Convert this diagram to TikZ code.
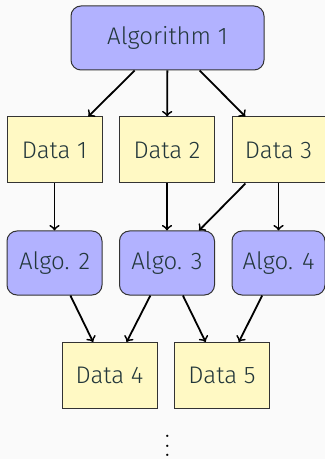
\documentclass[tikz,border=0pt]{standalone}
\usepackage{fontspec}
\setmainfont{Fira Sans Light}
\definecolor{bgcol}{HTML}{FAFAFA}
\definecolor{txtcol}{HTML}{23373B}
\definecolor{algofill}{rgb}{0.7,0.7,1}
\definecolor{datafill}{RGB}{255,249,196}
\newcommand\myvdots{\vbox{\baselineskip4.6pt\lineskiplimit0pt\hbox{$.$}\hbox{$.$}\hbox{$.$}}}
\begin{document}
\begin{tikzpicture}[x=0.5pt,y=-0.5pt,
  base/.style={draw=black!80,line width=0.5pt,text=txtcol,inner sep=0pt,font=\fontsize{12}{14}\selectfont},
  algobox/.style={base,fill=algofill,rounded corners=5pt,minimum width=47.5pt,minimum height=32pt},
  databox/.style={base,fill=datafill,minimum width=47.5pt,minimum height=33pt},
  flow/.style={->,line width=0.9pt,black}]
\useasboundingbox[fill=bgcol] (0,0) rectangle (325,459);
\node[algobox,minimum width=96.5pt] (a1) at (167.5,38) {Algorithm 1};
\node[databox] (d1) at (54.5,150) {Data 1};
\node[databox] (d2) at (167,150) {Data 2};
\node[databox,minimum width=46.5pt] (d3) at (278.5,150) {Data 3};
\node[algobox] (a2) at (54.5,263) {Algo. 2};
\node[algobox] (a3) at (167,263) {Algo. 3};
\node[algobox,minimum width=46.5pt] (a4) at (278.5,263) {Algo. 4};
\node[databox] (d4) at (109.5,375.5) {Data 4};
\node[databox] (d5) at (222,375.5) {Data 5};
\node[text=black,inner sep=0pt,font=\fontsize{13}{14}\selectfont] (dots) at (167.5,446) {\myvdots};
\draw[flow] (a1) -- (d1);
\draw[flow] (a1) -- (d2);
\draw[flow] (a1) -- (d3);
\draw[flow] (d1) -- (a2);
\draw[flow] (d2) -- (a3);
\draw[flow] (d3) -- (a3);
\draw[flow] (d3) -- (a4);
\draw[flow] (a2) -- (d4);
\draw[flow] (a3) -- (d4);
\draw[flow] (a3) -- (d5);
\draw[flow] (a4) -- (d5);
\end{tikzpicture}
\end{document}
